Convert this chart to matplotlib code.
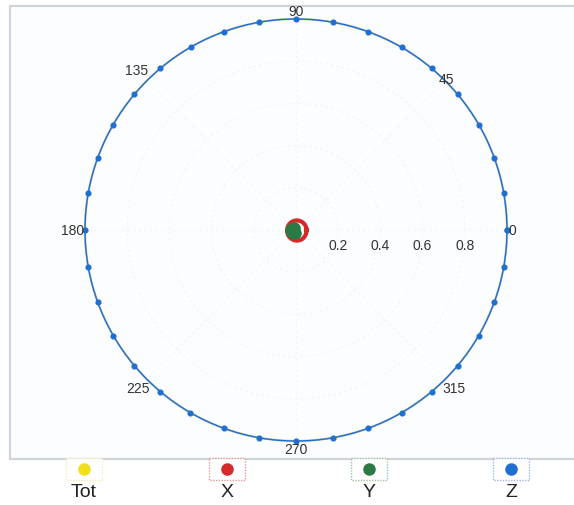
"""Polar plot of Tot / X / Y / Z direction response with a boxed legend below."""

import matplotlib.pyplot as plt
import numpy as np
from matplotlib.lines import Line2D
from matplotlib.patches import Rectangle

plt.rcParams["font.family"] = ["Liberation Sans", "DejaVu Sans"]

# angles (deg) and radii for each series
Z_THETA = [0, 10, 20, 30, 40, 50, 60, 70, 80, 90, 100, 110, 120, 130, 140, 150, 160, 170,
           180, 190, 200, 210, 220, 230, 240, 250, 260, 270, 280, 290, 300, 310, 320, 330, 340, 350, 360]
Z_R = [1.0, 1.0, 1.0, 1.0, 1.0, 1.0, 1.0, 1.0, 1.0, 1.0, 1.0, 1.0, 1.0, 1.0, 1.0, 1.0, 1.0, 1.0,
       1.0, 1.0, 1.0, 1.0, 1.0, 1.0, 1.0, 1.0, 1.0, 1.0, 1.0, 1.0, 1.0, 1.0, 1.0, 1.0, 1.0, 1.0, 1.0]
TOT_THETA = Z_THETA
TOT_R = [1.0, 1.0, 1.0, 1.0, 1.0, 1.0, 1.0, 1.0, 1.0, 1.0, 1.0, 1.0, 1.0, 1.0, 1.0, 1.0, 1.0, 1.0,
         1.0, 1.0, 1.0, 1.0, 1.0, 1.0, 1.0, 1.0, 1.0, 1.0, 1.0, 1.0, 1.0, 1.0, 1.0, 1.0, 1.0, 1.0, 1.0]
X_THETA = [0, 30, 60, 90, 120, 150, 180, 210, 240, 270, 300, 330, 360]
X_R = [0.050, 0.049, 0.047, 0.045, 0.043, 0.042, 0.042, 0.044, 0.047, 0.050, 0.052, 0.051, 0.050]
Y_THETA = [135, 160, 185, 210, 235, 260]
Y_R = [0.014, 0.02, 0.022, 0.022, 0.02, 0.014]

RADIAL_TICKS = [0.2, 0.4, 0.6, 0.8]
RADIAL_LABELS = ["0.2", "0.4", "0.6", "0.8"]
ANGLE_TICKS = [0, 45, 90, 135, 180, 225, 270, 315]
SERIES_NAMES = ["Tot", "X", "Y", "Z"]
SERIES_COLORS = ["#f2df1c", "#d42a2a", "#2b7a45", "#1f6fd0"]
BOX_COLORS = ["#f3ecb8", "#e29a9a", "#9cc4a4", "#9fb6e6"]

W, H = 574, 506
fig = plt.figure(figsize=(W / 100, H / 100), dpi=100, facecolor="white")

# outer frame and legend drawn in a pixel-space overlay
bg = fig.add_axes([0, 0, 1, 1])
bg.set_xlim(0, W)
bg.set_ylim(H, 0)
bg.axis("off")
bg.add_patch(Rectangle((10, 7), 580, 453, facecolor="#fcfdfe", edgecolor="#cfd3da", linewidth=1.6))

cx, cy, rad = 296, 231, 211
ax = fig.add_axes([(cx - rad) / W, 1 - (cy + rad) / H, 2 * rad / W, 2 * rad / H], projection="polar")
ax.set_facecolor("none")
ax.set_ylim(0, 1.0)
ax.spines["polar"].set_visible(False)
ax.set_rgrids(RADIAL_TICKS, labels=[""] * len(RADIAL_TICKS))
ax.set_thetagrids(ANGLE_TICKS, labels=[""] * len(ANGLE_TICKS))
ax.grid(True, color="#f3f4f6", linestyle=(0, (2, 3)), linewidth=0.8)

lines = []
lines += ax.plot(np.deg2rad(TOT_THETA), TOT_R, color="#c9c9b0", linewidth=1.6, clip_on=False, zorder=3)
lines += ax.plot(np.deg2rad(Z_THETA), Z_R, color=SERIES_COLORS[3], linewidth=1.0, marker="o",
                 markersize=3.4, clip_on=False, zorder=4)
lines += ax.plot(np.deg2rad(X_THETA), X_R, color=SERIES_COLORS[1], linewidth=3.0, zorder=5)
ax.plot(np.deg2rad(Y_THETA), Y_R, color=SERIES_COLORS[2], linewidth=2.0, marker="o",
        markersize=8, zorder=6)
# draw the segments as arcs instead of chords in polar space
for line in lines:
    line.recache()
    line.get_path()._interpolation_steps = 12

for tick, label in zip(RADIAL_TICKS, RADIAL_LABELS):
    ax.annotate(label, (0, tick), xytext=(0, -6), textcoords="offset points",
                ha="center", va="top", fontsize=10, color="#333333")

label_r = {0: 1.025, 45: 1.01, 90: 1.04, 135: 1.07, 180: 1.06, 225: 1.06, 270: 1.04, 315: 1.06}
for angle in ANGLE_TICKS:
    ax.text(np.deg2rad(angle), label_r[angle], str(angle), ha="center", va="center",
            fontsize=10, color="#333333", clip_on=False, zorder=7)

# legend: marker in a small box with label underneath
legend_x = [84, 227, 369, 511]
for x, name, color, box in zip(legend_x, SERIES_NAMES, SERIES_COLORS, BOX_COLORS):
    bg.add_patch(Rectangle((x - 18, 459), 36, 22, facecolor="white", edgecolor=box,
                           linewidth=1.0, linestyle=(0, (1, 1))))
    bg.add_line(Line2D([x], [470], marker="o", markersize=8, color=color, linestyle="none"))
    bg.text(x, 493, name, ha="center", va="center", fontsize=14, color="#222222")

fig.savefig("out.png", dpi=100, facecolor=fig.get_facecolor())
plt.close(fig)
